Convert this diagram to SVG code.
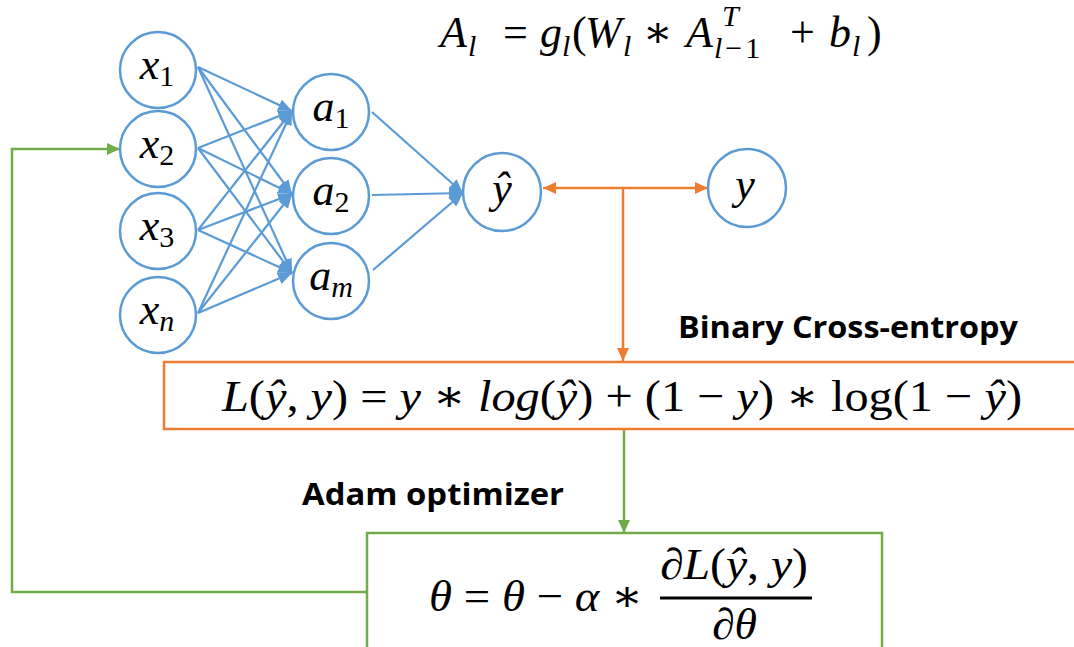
<svg xmlns="http://www.w3.org/2000/svg" width="1074" height="647" viewBox="0 0 1074 647">
<style>
.node{fill:#fff;stroke:#5B9BD5;stroke-width:2.5}
.m{font-family:"Liberation Serif","DejaVu Serif",serif;fill:#000}
.i{font-style:italic}
.lbl{font-family:"Open Sans",Lato,"Liberation Sans",sans-serif;font-weight:700;font-size:30px;fill:#000}
.blue{stroke:#5B9BD5;stroke-width:2.2;fill:none;marker-end:url(#ab)}
.org{stroke:#ED7D31;stroke-width:2.5;fill:none}
.grn{stroke:#70AD47;stroke-width:2.5;fill:none}
</style>
<defs>
<marker id="ab" markerUnits="userSpaceOnUse" markerWidth="14" markerHeight="12" refX="14" refY="6" orient="auto"><path d="M0,0 L14,6 L0,12 z" fill="#5B9BD5"/></marker>
<marker id="ao" markerUnits="userSpaceOnUse" markerWidth="13" markerHeight="12" refX="13" refY="6" orient="auto-start-reverse"><path d="M0,0 L13,6 L0,12 z" fill="#ED7D31"/></marker>
<marker id="ag" markerUnits="userSpaceOnUse" markerWidth="13" markerHeight="12" refX="13" refY="6" orient="auto"><path d="M0,0 L13,6 L0,12 z" fill="#70AD47"/></marker>
</defs>
<rect width="1074" height="647" fill="#fff"/>

<g id="connectors">
<line class="blue" x1="198" y1="67" x2="292" y2="111"/>
<line class="blue" x1="198" y1="67" x2="292" y2="194"/>
<line class="blue" x1="198" y1="67" x2="292" y2="273"/>
<line class="blue" x1="198" y1="148" x2="292" y2="111"/>
<line class="blue" x1="198" y1="148" x2="292" y2="194"/>
<line class="blue" x1="198" y1="148" x2="292" y2="273"/>
<line class="blue" x1="198" y1="230" x2="292" y2="111"/>
<line class="blue" x1="198" y1="230" x2="292" y2="194"/>
<line class="blue" x1="198" y1="230" x2="292" y2="273"/>
<line class="blue" x1="198" y1="313" x2="292" y2="111"/>
<line class="blue" x1="198" y1="313" x2="292" y2="194"/>
<line class="blue" x1="198" y1="313" x2="292" y2="273"/>
<line class="blue" x1="372" y1="112" x2="463" y2="193"/>
<line class="blue" x1="372" y1="195" x2="463" y2="193"/>
<line class="blue" x1="373" y1="270" x2="463" y2="193"/>
<line class="org" x1="543" y1="188" x2="708" y2="188" marker-start="url(#ao)" marker-end="url(#ao)"/>
<line class="org" x1="623" y1="188" x2="623" y2="361" marker-end="url(#ao)"/>
<line class="grn" x1="624" y1="430" x2="624" y2="533" marker-end="url(#ag)"/>
<polyline class="grn" points="367,592 12,592 12,149 120,149" marker-end="url(#ag)"/>
</g>

<g id="formula-top">
<text class="m i" x="440" y="47" font-size="44">A</text>
<text class="m i" x="468" y="56" font-size="30">l</text>
<text class="m" x="503" y="47" font-size="44">=</text>
<text class="m i" x="540" y="47" font-size="44">g</text>
<text class="m i" x="562" y="56" font-size="30">l</text>
<text class="m" x="572" y="47" font-size="44">(</text>
<text class="m i" x="585" y="47" font-size="44">W</text>
<text class="m i" x="623" y="56" font-size="30">l</text>
<text class="m" x="643" y="47" font-size="44">∗</text>
<text class="m i" x="686" y="47" font-size="44">A</text>
<text class="m i" x="722" y="26" font-size="30">T</text>
<text class="m" x="714" y="58" font-size="30"><tspan class="i">l</tspan><tspan dx="3">−</tspan><tspan dx="3">1</tspan></text>
<text class="m" x="790" y="47" font-size="44">+</text>
<text class="m i" x="829" y="47" font-size="44">b</text>
<text class="m i" x="852" y="56" font-size="30">l</text>
<text class="m" x="867" y="47" font-size="44">)</text>
</g>

<g id="node-x1"><circle class="node" cx="158" cy="70" r="38"/><text class="m" x="157" y="79" text-anchor="middle" font-size="44"><tspan class="i">x</tspan><tspan font-size="30" dy="7">1</tspan></text></g>
<g id="node-x2"><circle class="node" cx="158" cy="149" r="38"/><text class="m" x="157" y="158" text-anchor="middle" font-size="44"><tspan class="i">x</tspan><tspan font-size="30" dy="7">2</tspan></text></g>
<g id="node-x3"><circle class="node" cx="158" cy="231" r="38"/><text class="m" x="157" y="240" text-anchor="middle" font-size="44"><tspan class="i">x</tspan><tspan font-size="30" dy="7">3</tspan></text></g>
<g id="node-xn"><circle class="node" cx="158" cy="315" r="38"/><text class="m" x="157" y="324" text-anchor="middle" font-size="44"><tspan class="i">x</tspan><tspan class="i" font-size="30" dy="7">n</tspan></text></g>

<g id="node-a1"><circle class="node" cx="331" cy="112" r="38"/><text class="m" x="331" y="121" text-anchor="middle" font-size="44"><tspan class="i">a</tspan><tspan font-size="30" dy="7">1</tspan></text></g>
<g id="node-a2"><circle class="node" cx="331" cy="196" r="38"/><text class="m" x="331" y="205" text-anchor="middle" font-size="44"><tspan class="i">a</tspan><tspan font-size="30" dy="7">2</tspan></text></g>
<g id="node-am"><circle class="node" cx="331" cy="281" r="38"/><text class="m" x="331" y="290" text-anchor="middle" font-size="44"><tspan class="i">a</tspan><tspan class="i" font-size="30" dy="7">m</tspan></text></g>

<g id="node-yhat"><circle class="node" cx="502" cy="192" r="39"/><text class="m i" x="502" y="203" text-anchor="middle" font-size="44">ŷ</text></g>
<g id="node-y"><circle class="node" cx="747" cy="188" r="39"/><text class="m i" x="745" y="199" text-anchor="middle" font-size="44">y</text></g>

<g id="label-bce"><text class="lbl" x="678" y="338" textLength="340" lengthAdjust="spacingAndGlyphs">Binary Cross-entropy</text></g>

<g id="loss-box">
<rect x="164" y="362" width="920" height="67" fill="#fff" stroke="#ED7D31" stroke-width="2.5"/>
<text class="m" x="222" y="411" font-size="44" textLength="800" lengthAdjust="spacingAndGlyphs"><tspan class="i">L</tspan>(<tspan class="i">ŷ</tspan>, <tspan class="i">y</tspan>) = <tspan class="i">y</tspan> ∗ <tspan class="i">log</tspan>(<tspan class="i">ŷ</tspan>) + (1 − <tspan class="i">y</tspan>) ∗ log(1 − <tspan class="i">ŷ</tspan>)</text>
</g>

<g id="label-adam"><text class="lbl" x="302" y="505" textLength="262" lengthAdjust="spacingAndGlyphs">Adam optimizer</text></g>

<g id="optimizer-box">
<rect x="367" y="533" width="515" height="130" fill="#fff" stroke="#70AD47" stroke-width="2.5"/>
<text class="m" x="429" y="611" font-size="44" textLength="214" lengthAdjust="spacingAndGlyphs"><tspan class="i">θ</tspan> = <tspan class="i">θ</tspan> − <tspan class="i">α</tspan> ∗</text>
<text class="m" x="660" y="579" font-size="44" textLength="148" lengthAdjust="spacingAndGlyphs"><tspan class="i">∂L</tspan>(<tspan class="i">ŷ</tspan>, <tspan class="i">y</tspan>)</text>
<line x1="660" y1="598" x2="812" y2="598" stroke="#000" stroke-width="3"/>
<text class="m i" x="712" y="639" font-size="44" textLength="45" lengthAdjust="spacingAndGlyphs">∂θ</text>
</g>
</svg>
